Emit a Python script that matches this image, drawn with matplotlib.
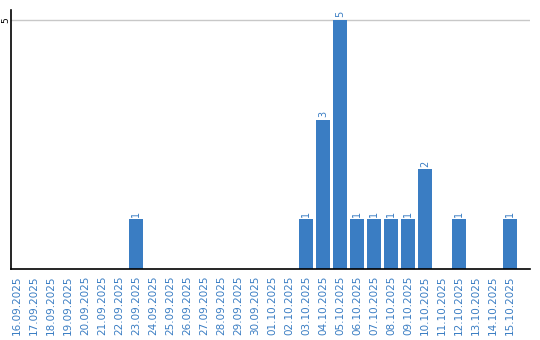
import matplotlib
matplotlib.use("Agg")
import matplotlib.pyplot as plt
import datetime

# one value per day, 16.09.2025 .. 15.10.2025
start = datetime.date(2025, 9, 16)
dates = [(start + datetime.timedelta(days=i)).strftime("%d.%m.%Y") for i in range(30)]
counts = [0, 0, 0, 0, 0, 0, 0, 1, 0, 0,
          0, 0, 0, 0, 0, 0, 0, 1, 3, 5,
          1, 1, 1, 1, 2, 0, 1, 0, 0, 1]

blue = "#3a7dc3"

fig = plt.figure(figsize=(5.4, 3.4), dpi=100)
ax = fig.add_axes([11 / 540, 71 / 340, 519 / 540, 259 / 340])

x = list(range(len(dates)))
bars = ax.bar(x, counts, width=0.82, color=blue, zorder=2)

for xi, v in zip(x, counts):
    if v > 0:
        ax.text(xi, v + 0.05, str(v), rotation=90, ha="center", va="bottom",
                fontsize=7, color=blue)

ax.set_xlim(-0.35, 30.18)
ax.set_ylim(0, 5.2)
ax.set_yticks([5])
ax.set_yticklabels(["5"], rotation=90, va="center", fontsize=6.5)
ax.axhline(5, color="#c8c8c8", lw=1, zorder=1)

ax.set_xticks(x)
ax.set_xticklabels(dates, rotation=90, fontsize=7.5, color=blue)
ax.tick_params(axis="both", length=0)
ax.tick_params(axis="x", pad=4.5)
ax.tick_params(axis="y", pad=0.5)

for side in ("top", "right"):
    ax.spines[side].set_visible(False)
ax.spines["left"].set_linewidth(1.2)
ax.spines["bottom"].set_linewidth(1.2)

fig.savefig("out.png", dpi=100)
